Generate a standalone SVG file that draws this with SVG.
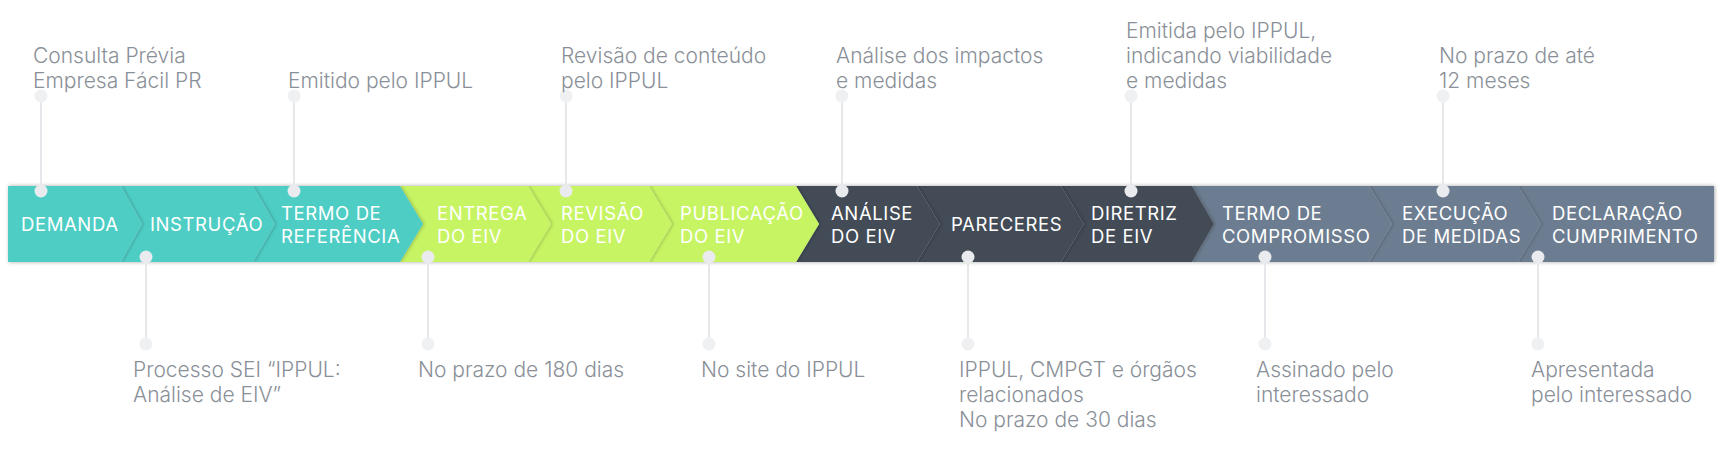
<svg xmlns="http://www.w3.org/2000/svg" width="1726" height="449" viewBox="0 0 1726 449">
<defs>
<style>
.teal{fill:#4ECDC4}
.lime{fill:#C7F464}
.dark{fill:#434B57}
.slate{fill:#6C7D91}
.seg{filter:url(#sh)}
.lbl{font-family:"Inter","Noto Sans",sans-serif;font-size:18.5px;font-weight:400;letter-spacing:0.6px;fill:#FFFFFF}
.note{font-family:"Inter","Noto Sans",sans-serif;font-size:21px;font-weight:300;fill:#8A9098}
.lead{stroke:#E6E8EB;stroke-width:2;fill:none}
.dot{fill:#E9EBEE}
.end{fill:#EEF0F2}
</style>
<filter id="sh" x="-10%" y="-20%" width="130%" height="140%">
<feDropShadow dx="1.5" dy="0" stdDeviation="1.6" flood-color="#000000" flood-opacity="0.2"/>
</filter>
<filter id="bandsh" x="-5%" y="-30%" width="110%" height="160%">
<feGaussianBlur stdDeviation="2"/>
</filter>
</defs>
<rect x="8" y="185" width="1706" height="78" fill="#000000" opacity="0.12" filter="url(#bandsh)"/>

<g id="node-declaracao"><polygon class="seg slate" points="1518,186 1714,186 1714,262 1518,262 1541,224"/><text class="lbl" x="1552" y="219.5">DECLARAÇÃO</text><text class="lbl" x="1552" y="243">CUMPRIMENTO</text></g>
<g id="node-execucao"><polygon class="seg slate" points="1369,186 1518,186 1541,224 1518,262 1369,262 1392,224"/><text class="lbl" x="1402" y="219.5">EXECUÇÃO</text><text class="lbl" x="1402" y="243">DE MEDIDAS</text></g>
<g id="node-termo-compromisso"><polygon class="seg slate" points="1192,186 1369,186 1392,224 1369,262 1192,262 1214,224"/><text class="lbl" x="1222" y="219.5">TERMO DE</text><text class="lbl" x="1222" y="243">COMPROMISSO</text></g>
<g id="node-diretriz"><polygon class="seg dark" points="1061,186 1192,186 1214,224 1192,262 1061,262 1084,224"/><text class="lbl" x="1091" y="219.5">DIRETRIZ</text><text class="lbl" x="1091" y="243">DE EIV</text></g>
<g id="node-pareceres"><polygon class="seg dark" points="917,186 1061,186 1084,224 1061,262 917,262 940,224"/><text class="lbl" x="951" y="230.5">PARECERES</text></g>
<g id="node-analise"><polygon class="seg dark" points="796,186 917,186 940,224 917,262 796,262 819,224"/><text class="lbl" x="831" y="219.5">ANÁLISE</text><text class="lbl" x="831" y="243">DO EIV</text></g>
<g id="node-publicacao"><polygon class="seg lime" points="649,186 796,186 819,224 796,262 649,262 672,224"/><text class="lbl" x="680" y="219.5">PUBLICAÇÃO</text><text class="lbl" x="680" y="243">DO EIV</text></g>
<g id="node-revisao"><polygon class="seg lime" points="528,186 649,186 672,224 649,262 528,262 551,224"/><text class="lbl" x="561" y="219.5">REVISÃO</text><text class="lbl" x="561" y="243">DO EIV</text></g>
<g id="node-entrega"><polygon class="seg lime" points="400,186 528,186 551,224 528,262 400,262 423,224"/><text class="lbl" x="437" y="219.5">ENTREGA</text><text class="lbl" x="437" y="243">DO EIV</text></g>
<g id="node-termo-referencia"><polygon class="seg teal" points="253,186 400,186 423,224 400,262 253,262 275,224"/><text class="lbl" x="281" y="219.5">TERMO DE</text><text class="lbl" x="281" y="243">REFERÊNCIA</text></g>
<g id="node-instrucao"><polygon class="seg teal" points="121,186 253,186 275,224 253,262 121,262 142,224"/><text class="lbl" x="150" y="230.5">INSTRUÇÃO</text></g>
<g id="node-demanda"><polygon class="seg teal" points="8,186 121,186 142,224 121,262 8,262"/><text class="lbl" x="21" y="230.5">DEMANDA</text></g>

<g id="connectors">
<line class="lead" x1="41" y1="96" x2="41" y2="191"/>
<line class="lead" x1="294" y1="96" x2="294" y2="191"/>
<line class="lead" x1="566" y1="96" x2="566" y2="191"/>
<line class="lead" x1="842" y1="96" x2="842" y2="191"/>
<line class="lead" x1="1131" y1="96" x2="1131" y2="191"/>
<line class="lead" x1="1443" y1="96" x2="1443" y2="191"/>
<line class="lead" x1="146" y1="257" x2="146" y2="344"/>
<line class="lead" x1="428" y1="257" x2="428" y2="344"/>
<line class="lead" x1="709" y1="257" x2="709" y2="344"/>
<line class="lead" x1="968" y1="257" x2="968" y2="344"/>
<line class="lead" x1="1265" y1="257" x2="1265" y2="344"/>
<line class="lead" x1="1538" y1="257" x2="1538" y2="344"/>
<circle class="end" cx="41" cy="96" r="6.5"/>
<circle class="end" cx="294" cy="96" r="6.5"/>
<circle class="end" cx="566" cy="96" r="6.5"/>
<circle class="end" cx="842" cy="96" r="6.5"/>
<circle class="end" cx="1131" cy="96" r="6.5"/>
<circle class="end" cx="1443" cy="96" r="6.5"/>
<circle class="end" cx="146" cy="344" r="6.5"/>
<circle class="end" cx="428" cy="344" r="6.5"/>
<circle class="end" cx="709" cy="344" r="6.5"/>
<circle class="end" cx="968" cy="344" r="6.5"/>
<circle class="end" cx="1265" cy="344" r="6.5"/>
<circle class="end" cx="1538" cy="344" r="6.5"/>
<circle class="dot" cx="41" cy="191" r="6.5"/>
<circle class="dot" cx="294" cy="191" r="6.5"/>
<circle class="dot" cx="566" cy="191" r="6.5"/>
<circle class="dot" cx="842" cy="191" r="6.5"/>
<circle class="dot" cx="1131" cy="191" r="6.5"/>
<circle class="dot" cx="1443" cy="191" r="6.5"/>
<circle class="dot" cx="146" cy="257" r="6.5"/>
<circle class="dot" cx="428" cy="257" r="6.5"/>
<circle class="dot" cx="709" cy="257" r="6.5"/>
<circle class="dot" cx="968" cy="257" r="6.5"/>
<circle class="dot" cx="1265" cy="257" r="6.5"/>
<circle class="dot" cx="1538" cy="257" r="6.5"/>
</g>

<g id="note-demanda"><text class="note" x="33" y="63">Consulta Prévia</text><text class="note" x="33" y="88">Empresa Fácil PR</text></g>
<g id="note-termo-referencia"><text class="note" x="288" y="88">Emitido pelo IPPUL</text></g>
<g id="note-revisao"><text class="note" x="561" y="63">Revisão de conteúdo</text><text class="note" x="561" y="88">pelo IPPUL</text></g>
<g id="note-analise"><text class="note" x="836" y="63">Análise dos impactos</text><text class="note" x="836" y="88">e medidas</text></g>
<g id="note-diretriz"><text class="note" x="1126" y="38">Emitida pelo IPPUL,</text><text class="note" x="1126" y="63">indicando viabilidade</text><text class="note" x="1126" y="88">e medidas</text></g>
<g id="note-execucao"><text class="note" x="1439" y="63">No prazo de até</text><text class="note" x="1439" y="88">12 meses</text></g>
<g id="note-instrucao"><text class="note" x="133" y="377">Processo SEI “IPPUL:</text><text class="note" x="133" y="402">Análise de EIV”</text></g>
<g id="note-entrega"><text class="note" x="418" y="377">No prazo de 180 dias</text></g>
<g id="note-publicacao"><text class="note" x="701" y="377">No site do IPPUL</text></g>
<g id="note-pareceres"><text class="note" x="959" y="377">IPPUL, CMPGT e órgãos</text><text class="note" x="959" y="402">relacionados</text><text class="note" x="959" y="427">No prazo de 30 dias</text></g>
<g id="note-termo-compromisso"><text class="note" x="1256" y="377">Assinado pelo</text><text class="note" x="1256" y="402">interessado</text></g>
<g id="note-declaracao"><text class="note" x="1531" y="377">Apresentada</text><text class="note" x="1531" y="402">pelo interessado</text></g>
</svg>
